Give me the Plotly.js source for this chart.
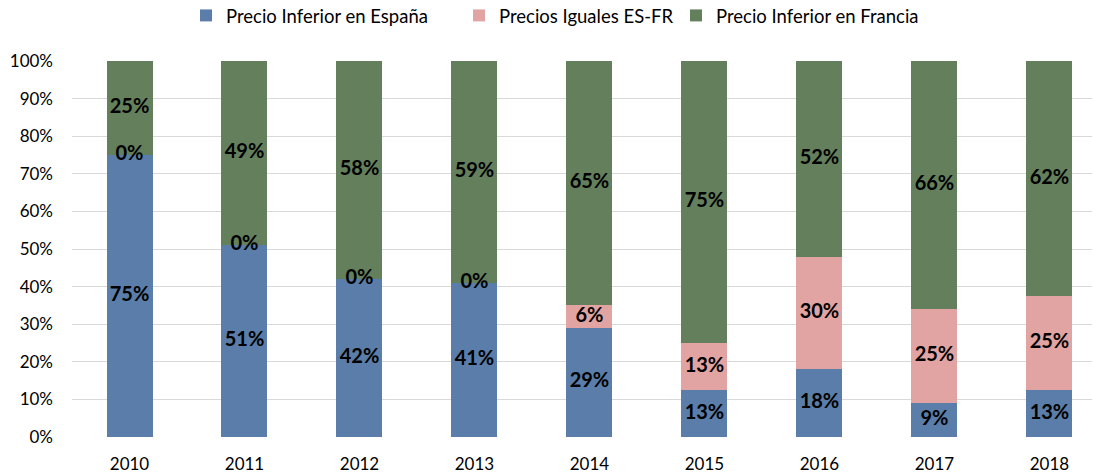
<!DOCTYPE html>
<html>
<head>
<meta charset="utf-8">
<script src="https://cdn.plot.ly/plotly-3.0.1.min.js"></script>
<style>html,body{margin:0;padding:0;background:#fff;}#chart{width:1094px;height:474px;}</style>
</head>
<body>
<div id="chart"></div>
<script>
const years = ['2010','2011','2012','2013','2014','2015','2016','2017','2018'];
const inferiorEspana = [75, 51, 42, 41, 29, 12.5, 18, 9, 12.5];
const preciosIguales = [0, 0, 0, 0, 6, 12.5, 30, 25, 25];
const inferiorFrancia = [25, 49, 58, 59, 65, 75, 52, 66, 62.4];
const yTicks = [0,10,20,30,40,50,60,70,80,90,100];
const yTickLabels = ['0%','10%','20%','30%','40%','50%','60%','70%','80%','90%','100%'];

const names = ['Precio Inferior en España','Precios Iguales ES-FR','Precio Inferior en Francia'];
const colors = ['#5A7DAA','#E2A4A3','#647F5C'];
const series = [inferiorEspana, preciosIguales, inferiorFrancia];
const legendIds = ['legend','legend2','legend3'];

const FONT = 'Lato, "Open Sans", sans-serif';

const traces = [];
series.forEach((vals, i) => {
  traces.push({
    type: 'bar', x: years, y: vals, name: names[i], legend: legendIds[i],
    marker: {color: colors[i], line: {width: 0}},
    hoverinfo: 'skip'
  });
});
const lx = [], ly = [], lt = [];
years.forEach((yr, j) => {
  let base = 0;
  series.forEach((vals) => {
    const v = vals[j];
    lx.push(yr); ly.push(base + v / 2); lt.push(Math.round(v) + '%');
    base += v;
  });
});
traces.push({
  type: 'scatter', mode: 'text', x: lx, y: ly, text: lt,
  textposition: 'middle center', showlegend: false, hoverinfo: 'skip',
  textfont: {family: FONT, size: 20, color: '#000', weight: 'bold'}
});

function leg(xp) {
  return {orientation: 'h', x: xp, xanchor: 'left', y: 1.12, yanchor: 'middle',
    font: {family: FONT, size: 18.5, color: '#000'}, bgcolor: 'rgba(0,0,0,0)'};
}

const layout = {
  width: 1094, height: 474,
  margin: {l: 72, r: 2, t: 61, b: 37, autoexpand: false},
  barmode: 'stack', bargap: 0.6,
  paper_bgcolor: '#ffffff', plot_bgcolor: '#ffffff',
  font: {family: FONT, size: 16, color: '#000'},
  showlegend: true,
  legend: leg((186 - 72) / 1020),
  legend2: leg((459 - 72) / 1020),
  legend3: leg((676 - 72) / 1020),
  xaxis: {type: 'category', range: [-0.5, 8.37], showgrid: false, zeroline: false,
    showline: false, ticks: '', ticklabelstandoff: 15,
    tickfont: {family: FONT, size: 17, color: '#000'}, fixedrange: true},
  yaxis: {range: [0, 100], tickvals: yTicks, ticktext: yTickLabels, showgrid: true,
    gridcolor: '#d9d9d9', gridwidth: 1, zeroline: false, showline: false, ticks: '',
    ticklabelstandoff: 18,
    tickfont: {family: FONT, size: 17, color: '#000'}, fixedrange: true}
};

Plotly.newPlot('chart', traces, layout, {displayModeBar: false, staticPlot: true});
</script>
</body>
</html>
